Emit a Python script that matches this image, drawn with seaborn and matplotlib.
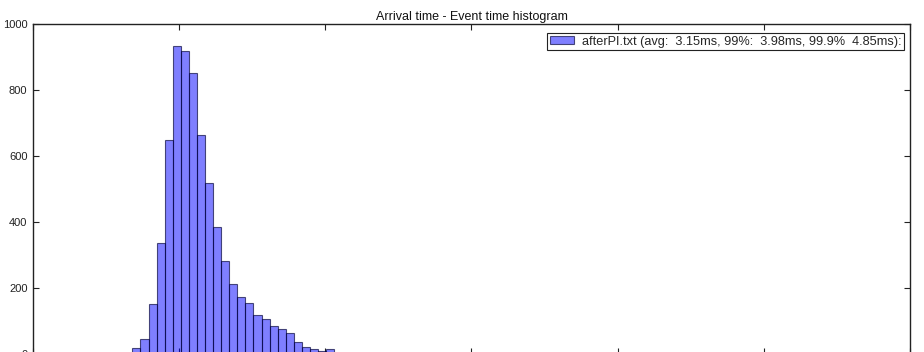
import numpy as np
import pandas as pd
import matplotlib
matplotlib.use("Agg")
import matplotlib.pyplot as plt
import seaborn as sns

# ---- data ----
bin_start = 2.349      # ms, left edge of first bin
bin_width = 0.0552     # ms
counts = [1, 2, 0, 2, 3, 3,
          17, 44, 151, 335, 648, 934, 919, 853, 664, 519, 386, 281, 211, 174,
          156, 118, 105, 85, 75, 63, 35, 20, 15, 9, 16,
          4, 3, 3, 2, 3, 0, 2, 2, 1, 2, 0, 1, 2, 1, 1]
title = "Arrival time - Event time histogram"
legend_label = "afterPI.txt (avg:  3.15ms, 99%:  3.98ms, 99.9%  4.85ms):"
x_range = (2, 8)
y_range = (0, 1000)
y_ticks = [0, 200, 400, 600, 800, 1000]

edges = [bin_start + bin_width * i for i in range(len(counts) + 1)]
centers = [(edges[i] + edges[i + 1]) / 2 for i in range(len(counts))]
df = pd.DataFrame({"t": centers, "n": counts})

sns.set_style("ticks")
plt.rcParams["font.family"] = ["Liberation Sans", "DejaVu Sans"]

fig = plt.figure(figsize=(9.24, 3.52), dpi=100)
ax = fig.add_axes([33 / 924, 1 - 354 / 352, 877 / 924, 330 / 352])

sns.histplot(data=df, x="t", weights="n", bins=edges, ax=ax,
             color=(0.0, 0.0, 1.0), alpha=0.5, edgecolor=(0, 0, 0.2, 0.65),
             linewidth=0.8, label=legend_label)

ax.set_xlim(*x_range)
ax.set_ylim(*y_range)
ax.set_yticks(y_ticks)
ax.set_xticks([2, 3, 4, 5, 6, 7, 8])
ax.set_xlabel("")
ax.set_ylabel("")
ax.tick_params(direction="in", top=True, right=True, length=4, width=0.8,
               labelsize=8, colors="#222222", pad=4)
ax.tick_params(axis="x", labelbottom=False)
for s in ax.spines.values():
    s.set_visible(True)
    s.set_linewidth(1.0)
    s.set_color("#222222")

ax.set_title(title, fontsize=9, pad=3, color="#111111")

leg = ax.legend(loc="upper right", bbox_to_anchor=(1 - 6 / 877, 1 - 9 / 330),
                borderaxespad=0, fancybox=False, framealpha=1,
                edgecolor="#222222", fontsize=9.2, handlelength=1.9,
                handleheight=0.5, borderpad=0.2, handletextpad=0.6)
leg.get_frame().set_linewidth(0.8)

fig.savefig("out.png", dpi=100)
